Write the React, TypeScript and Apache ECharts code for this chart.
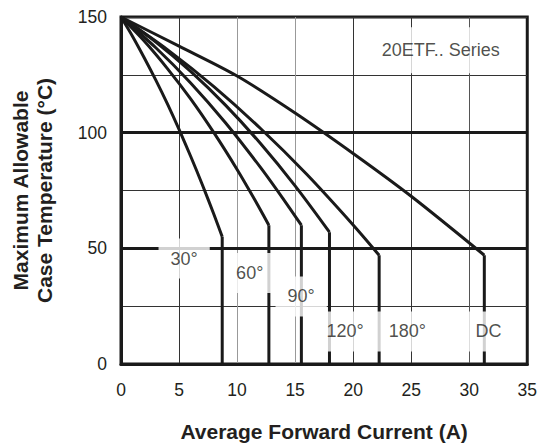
import React, { useEffect, useRef } from 'react';
import * as echarts from 'echarts';

// Conduction angle curves: [average forward current (A), max case temperature (°C)]
const curveNames = ['30°', '60°', '90°', '120°', '180°', 'DC'];
const curve30 = [[0, 150], [1, 141.6], [2, 132.4], [3, 122.7], [4, 112.4], [5, 101.4], [6, 89.8], [7, 77.6], [8, 64.7], [8.72, 55]];
const curve60 = [[0, 150], [2, 139.6], [4, 127.7], [6, 114.6], [8, 100], [10, 84.1], [11.5, 71.2], [12.74, 60]];
const curve90 = [[0, 150], [3, 136.7], [6, 121.5], [9, 104.3], [12, 85.1], [14, 71.2], [15.54, 60]];
const curve120 = [[0, 150], [3, 139.2], [6, 126.5], [9, 111.9], [12, 95.4], [15, 77], [17.96, 57]];
const curve180 = [[0, 150], [4, 135.9], [8, 119.9], [12, 101.9], [16, 82], [20, 60.1], [22.24, 47]];
const curveDC = [[0, 150], [5, 137.4], [10, 124.5], [15, 108.5], [20, 91], [25, 72.5], [31.3, 47]];
const curves = [curve30, curve60, curve90, curve120, curve180, curveDC];

// Annotation anchors (data coordinates)
const angleLabelX = [5.44, 11.09, 15.52, 19.31, 24.67, 31.67];
const angleLabelY = [45.6, 39.3, 29.2, 14.1, 14.1, 14.1];
const seriesTitle = '20ETF.. Series';
const seriesTitleX = 27.54;
const seriesTitleY = 135.6;

const thickGridLevels = [50, 100];

const FONT = '"Liberation Sans", Arial, Helvetica, sans-serif';
const INK = '#1a1a1a';
const TEXT = '#231f20';

export default function App() {
  const ref = useRef<HTMLDivElement>(null);

  useEffect(() => {
    if (!ref.current) return;
    const chart = echarts.init(ref.current, undefined, { renderer: 'svg' });

    const curveSeries = curves.map((c, i) => ({
      name: curveNames[i],
      type: 'line',
      data: c,
      smooth: 0.3,
      showSymbol: false,
      symbol: 'none',
      lineStyle: { color: INK, width: 3 },
      z: 3,
      silent: true,
    }));

    const dropSeries = curves.map((c, i) => {
      const last = c[c.length - 1];
      return {
        name: curveNames[i] + ' limit',
        type: 'line',
        data: [[last[0], last[1]], [last[0], 0]],
        showSymbol: false,
        symbol: 'none',
        lineStyle: { color: INK, width: 3 },
        z: 3,
        silent: true,
      };
    });

    const option: any = {
      animation: false,
      textStyle: { fontFamily: FONT },
      grid: {
        left: 117,
        right: 8,
        top: 17,
        bottom: 76,
        show: true,
        borderColor: INK,
        borderWidth: 3,
        backgroundColor: 'transparent',
      },
      xAxis: {
        type: 'value',
        min: 0,
        max: 35,
        interval: 5,
        axisLine: { show: true, lineStyle: { color: INK, width: 3 } },
        axisTick: { show: false },
        axisLabel: { margin: 17, fontSize: 17.5, color: TEXT, fontFamily: FONT },
        splitLine: {
          show: true,
          lineStyle: {
            color: [INK, '#333', '#999', '#999', '#333', '#333', '#555', INK],
            width: 1,
          },
        },
        name: 'Average Forward Current (A)',
        nameLocation: 'middle',
        nameGap: 57,
        nameTextStyle: { fontSize: 21, fontWeight: 'bold', color: TEXT, fontFamily: FONT },
      },
      yAxis: {
        type: 'value',
        min: 0,
        max: 150,
        interval: 25,
        axisLine: { show: true, lineStyle: { color: INK, width: 3 } },
        axisTick: { show: false },
        axisLabel: {
          margin: 14,
          fontSize: 17.5,
          color: TEXT,
          fontFamily: FONT,
          formatter: (v: number) => (v % 50 === 0 ? String(v) : ''),
        },
        splitLine: { show: true, lineStyle: { color: '#333', width: 1 } },
        name: 'Maximum Allowable\nCase Temperature (°C)',
        nameLocation: 'middle',
        nameGap: 65,
        nameRotate: 90,
        nameTextStyle: { fontSize: 21, fontWeight: 'bold', color: TEXT, fontFamily: FONT, lineHeight: 24 },
      },
      series: [
        {
          name: 'grid-thick',
          type: 'line',
          data: [],
          silent: true,
          z: 2,
          markLine: {
            silent: true,
            symbol: ['none', 'none'],
            label: { show: false },
            lineStyle: { type: 'solid', color: INK, width: 3 },
            data: thickGridLevels.map((v) => ({ yAxis: v })),
          },
        },
        ...curveSeries,
        ...dropSeries,
        {
          name: 'labels',
          type: 'scatter',
          symbolSize: 1,
          itemStyle: { color: 'rgba(0,0,0,0)' },
          silent: true,
          z: 10,
          data: curveNames.map((n, i) => ({ name: n, value: [angleLabelX[i], angleLabelY[i]] })),
          label: {
            show: true,
            position: 'inside',
            formatter: (p: any) => p.name,
            fontSize: 18,
            color: TEXT,
            fontFamily: FONT,
            backgroundColor: '#fff',
            padding: [11, 12],
          },
          labelLayout: { hideOverlap: false },
        },
        {
          name: 'title-label',
          type: 'scatter',
          symbolSize: 1,
          itemStyle: { color: 'rgba(0,0,0,0)' },
          silent: true,
          z: 10,
          data: [{ name: seriesTitle, value: [seriesTitleX, seriesTitleY] }],
          label: {
            show: true,
            position: 'inside',
            formatter: (p: any) => p.name,
            fontSize: 18,
            color: TEXT,
            fontFamily: FONT,
            backgroundColor: '#fff',
            padding: [14, 8],
          },
        },
      ],
    };

    chart.setOption(option);
    return () => chart.dispose();
  }, []);

  return (
    <div
      ref={ref}
      style={{ position: 'fixed', left: 0, top: 0, width: 540, height: 447, background: '#fff' }}
    />
  );
}
